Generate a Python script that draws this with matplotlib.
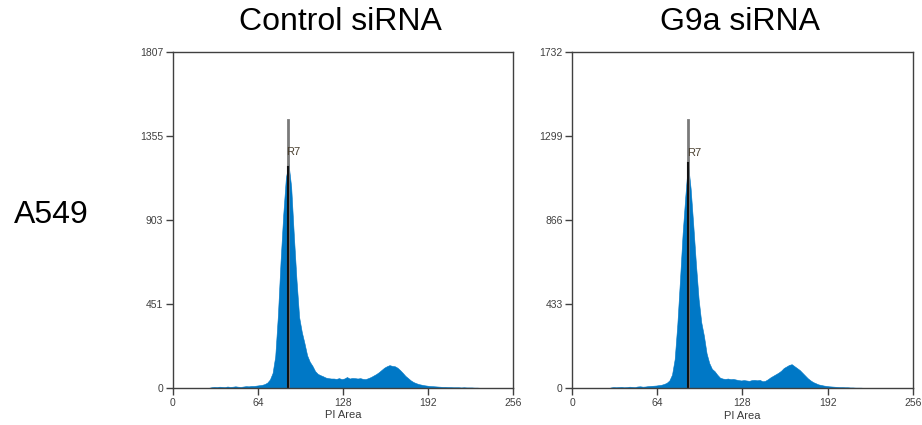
import numpy as np
import matplotlib.pyplot as plt

plt.rcParams['font.family'] = ['Liberation Sans', 'DejaVu Sans']

# histogram bins (PI Area channel, 2 channels per bin)
channels = np.arange(0, 256, 2)

control_counts = [
    0, 0, 0, 0, 0, 0, 0, 0, 0, 0, 0, 0, 0, 0,
    3, 5, 4, 6, 5, 4, 7, 5, 6, 8, 6, 5, 7, 9, 8, 10,
    10, 12, 14, 16, 20, 28, 45, 80, 170, 390, 680, 930, 1130, 1205, 1080, 820,
    580, 380, 300, 240, 175, 140, 118, 90, 75, 68, 62, 55, 52, 50, 50, 48,
    52, 47, 50, 58, 50, 53, 52, 50, 52, 48, 47, 52, 58, 66, 74, 84,
    96, 108, 116, 122, 118, 116, 108, 95, 80, 64, 52, 40, 31, 25, 20, 17,
    14, 12, 10, 9, 8, 7, 6, 5, 5, 4, 4, 3, 3, 3, 2, 3,
    2, 2, 2, 1, 1, 0, 0, 0, 0, 0, 0, 0, 0, 0, 0, 0,
    0, 0,
]

g9a_counts = [
    0, 0, 0, 0, 0, 0, 0, 0, 0, 0, 0, 0, 0, 0,
    4, 6, 5, 6, 7, 5, 6, 8, 7, 6, 9, 10, 8, 9, 11, 12,
    13, 14, 16, 18, 22, 28, 40, 70, 150, 330, 560, 800, 990, 1160, 1030, 840,
    640, 460, 340, 270, 180, 130, 100, 88, 70, 55, 50, 48, 50, 47, 48, 45,
    42, 40, 42, 40, 38, 42, 43, 41, 43, 36, 38, 46, 56, 64, 72, 80,
    90, 104, 112, 120, 124, 114, 104, 94, 80, 66, 52, 41, 32, 26, 20, 17,
    14, 12, 10, 9, 8, 7, 6, 6, 5, 5, 4, 4, 3, 3, 3, 2,
    2, 2, 2, 1, 1, 0, 0, 0, 0, 0, 0, 0, 0, 0, 0, 0,
    0, 0,
]

titles = ["Control siRNA", "G9a siRNA"]
y_max = [1807, 1732]
y_ticks = [[0, 451, 903, 1355, 1807], [0, 433, 866, 1299, 1732]]
x_ticks = [0, 64, 128, 192, 256]
r7_pos = [86.5, 87]
r7_top = [1440, 1385]
r7_label_y = [1270, 1210]

fig = plt.figure(figsize=(9.22, 4.25), dpi=100)
ax_rects = [[0.1876, 0.0875, 0.3688, 0.7906], [0.6207, 0.0865, 0.3692, 0.7906]]

spine_color = '#404040'
for i, counts in enumerate([control_counts, g9a_counts]):
    ax = fig.add_axes(ax_rects[i])
    centers = channels + 1
    ax.fill_between(centers, counts, color='#0078c6', linewidth=0.4,
                    edgecolor='#0078c6')

    # R7 marker
    ax.plot([r7_pos[i], r7_pos[i]], [0, r7_top[i]], color='#7a7a7a', linewidth=2)
    inside = np.interp(r7_pos[i], centers, counts)
    ax.plot([r7_pos[i], r7_pos[i]], [0, inside], color='#111111', linewidth=1.5)
    ax.text(r7_pos[i] - 1, r7_label_y[i], 'R7', fontsize=8, color='#4a4030',
            ha='left', va='center')

    ax.set_xlim(0, 256)
    ax.set_ylim(0, y_max[i])
    ax.set_xticks(x_ticks)
    ax.set_yticks(y_ticks[i])
    ax.tick_params(direction='out', length=5, width=1, color=spine_color,
                   labelsize=7.5, labelcolor='#404040', pad=2)
    for s in ax.spines.values():
        s.set_color(spine_color)
        s.set_linewidth(1.0)
    ax.set_xlabel('PI Area', fontsize=8, color='#3a3a3a', labelpad=2)

    fig.text(ax_rects[i][0] + ax_rects[i][2] / 2 - 0.003, 0.948, titles[i],
             fontsize=23, ha='center', va='center', color='black')

fig.text(0.056, 0.494, 'A549', fontsize=23, ha='center', va='center', color='black')

fig.savefig('out.png', dpi=100)
